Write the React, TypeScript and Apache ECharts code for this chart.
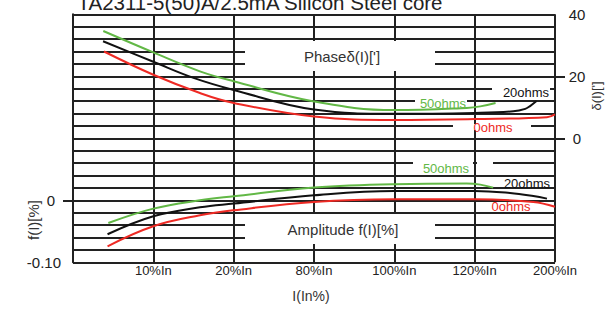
import React, { useEffect, useRef } from 'react';
import * as echarts from 'echarts';

// X positions: 0..6 → categories on the grid
const xTickLabels = ['', '10%In', '20%In', '80%In', '100%In', '120%In', '200%In'];

// Phase δ(I) ['] – right axis
const phase50 = [[0.377, 34.6], [1, 27.7], [1.58, 21.6], [2, 18.4], [3, 11.9], [4, 9.1], [4.9, 9.8], [5.07, 10.3], [5.26, 11.4]];
const phase20 = [[0.374, 31.3], [1, 24.7], [1.5, 19.5], [2, 15.6], [3, 9.3], [4, 7.9], [5, 8.2], [5.48, 8.7], [5.63, 9.5], [5.69, 10.4], [5.77, 12.0]];
const phase0 = [[0.386, 28.0], [1, 20.5], [1.58, 14.6], [2, 11.4], [3, 7.0], [4, 5.9], [5, 6.2], [5.9, 6.8], [6.0, 7.7]];

// Amplitude f(I) [%] – left axis
const amp50 = [[0.44, -0.0366], [1, -0.0134], [1.58, 0], [2, 0.0065], [3, 0.0205], [4, 0.026], [4.9, 0.027], [5.07, 0.0253], [5.23, 0.0205]];
const amp20 = [[0.43, -0.0548], [1, -0.0258], [1.58, -0.0113], [2, -0.0053], [3, 0.0081], [4, 0.015], [5, 0.015], [5.44, 0.0118], [5.73, 0.0069], [5.9, 0.0027]];
const amp0 = [[0.43, -0.0742], [1, -0.0419], [1.58, -0.0242], [2, -0.0161], [3, -0.0027], [4, 0.0016], [5, 0.0016], [5.73, -0.0027], [6.0, -0.0105]];

const rightLabelValues = [0, 20, 40];
const rightTickValues = [0, 20];
const leftTickValues = [0];

const GREEN = '#62b846';
const BLACK = '#111111';
const RED = '#ee2a24';
const GRID = '#222222';
const FONT = 'Liberation Sans, Arial, sans-serif';

export default function App() {
  const ref = useRef<HTMLDivElement>(null);
  useEffect(() => {
    if (!ref.current) return;
    const chart = echarts.init(ref.current, undefined, { renderer: 'svg' });
    const line = (name: string, data: number[][], color: string, yAxisIndex: number) => ({
      name,
      type: 'line',
      data,
      yAxisIndex,
      smooth: 0.4,
      showSymbol: false,
      symbol: 'none',
      clip: false,
      z: 2,
      lineStyle: { color, width: 2 },
    });
    const whiteRect = (x: number, y: number, w: number, h: number) => ({
      type: 'rect',
      z: 1,
      shape: { x, y, width: w, height: h },
      style: { fill: '#ffffff' },
      silent: true,
    });
    const txt = (text: string, x: number, y: number, size: number, color: string, rotation = 0) => ({
      type: 'text',
      z: 3,
      x,
      y,
      rotation,
      style: {
        text,
        fill: color,
        font: `${size}px ${FONT}`,
        align: 'center',
        verticalAlign: 'middle',
      },
      silent: true,
    });
    chart.setOption({
      animation: false,
      textStyle: { fontFamily: FONT },
      grid: { left: 73, right: 54, top: 14.3, bottom: 46.7, containLabel: false },
      xAxis: {
        type: 'value',
        min: 0,
        max: 6,
        interval: 1,
        axisLine: { show: true, lineStyle: { color: GRID, width: 2 } },
        axisTick: { show: false },
        splitLine: { show: true, showMinLine: true, showMaxLine: true, lineStyle: { color: GRID, width: 2 } },
        axisLabel: {
          formatter: (v: number) => xTickLabels[Math.round(v)] || '',
          color: '#222',
          fontSize: 13,
          margin: 2,
          showMinLabel: true,
          showMaxLabel: true,
        },
      },
      yAxis: [
        {
          type: 'value',
          position: 'left',
          min: -0.1,
          max: 0.3,
          interval: 0.02,
          axisLine: { show: true, lineStyle: { color: GRID, width: 2 } },
          axisTick: { show: false },
          splitLine: { show: true, showMinLine: true, showMaxLine: true, lineStyle: { color: GRID, width: 2 } },
          axisLabel: {
            formatter: (v: number) =>
              Math.abs(v) < 1e-6 ? '{z|0}' : Math.abs(v + 0.1) < 1e-6 ? '{n|-0.10}' : '',
            margin: 12,
            rich: {
              z: { fontSize: 15, color: '#222', padding: [0, 6, 0, 0], fontFamily: FONT },
              n: { fontSize: 15, color: '#222', fontFamily: FONT },
            },
          },
        },
        {
          type: 'value',
          position: 'right',
          min: -40,
          max: 40,
          interval: 20,
          axisLine: { show: false },
          axisTick: { show: true, customValues: rightTickValues, length: 10, lineStyle: { color: GRID, width: 2 } },
          splitLine: { show: false },
          axisLabel: {
            customValues: rightLabelValues,
            formatter: (v: number) => String(v),
            align: 'center',
            margin: 22,
            fontSize: 15,
            color: '#222',
          },
        },
        {
          type: 'value',
          position: 'left',
          min: -0.1,
          max: 0.3,
          axisLine: { show: false },
          axisTick: { show: true, customValues: leftTickValues, length: 10, lineStyle: { color: GRID, width: 2 } },
          splitLine: { show: false },
          axisLabel: { show: false },
        },
      ],
      graphic: {
        elements: [
          whiteRect(245, 41, 190, 30),
          whiteRect(245, 214, 190, 30),
          whiteRect(492, 86, 58, 6),
          whiteRect(415, 99, 52, 6),
          whiteRect(453, 124, 78, 6),
          whiteRect(413, 160, 60, 6),
          whiteRect(477, 160, 16, 6),
          txt('TA2311-5(50)A/2.5mA Silicon Steel core', 260, 2.5, 20.5, '#222'),
          txt('Phaseδ(I)[\']', 342, 56, 15, '#333'),
          txt('Amplitude f(I)[%]', 343, 229, 15, '#333'),
          txt('50ohms', 443, 103, 13, GREEN),
          txt('20ohms', 526, 92, 13, BLACK),
          txt('0ohms', 493, 127, 13, RED),
          txt('50ohms', 446, 168, 13, GREEN),
          txt('20ohms', 527, 183, 13, BLACK),
          txt('0ohms', 511, 206, 13, RED),
          txt('I(In%)', 311, 295.5, 14, '#333'),
          txt('f(I)[%]', 33, 220, 15, '#333', Math.PI / 2),
          txt('δ(I)[\']', 596, 96, 13, '#333', Math.PI / 2),
        ],
      },
      series: [
        line('Phase 50ohms', phase50, GREEN, 1),
        line('Phase 20ohms', phase20, BLACK, 1),
        line('Phase 0ohms', phase0, RED, 1),
        line('Amplitude 50ohms', amp50, GREEN, 0),
        line('Amplitude 20ohms', amp20, BLACK, 0),
        line('Amplitude 0ohms', amp0, RED, 0),
      ],
    });
    return () => chart.dispose();
  }, []);
  return (
    <div
      ref={ref}
      style={{ position: 'fixed', left: 0, top: 0, width: 609, height: 309, background: '#fff' }}
    />
  );
}
